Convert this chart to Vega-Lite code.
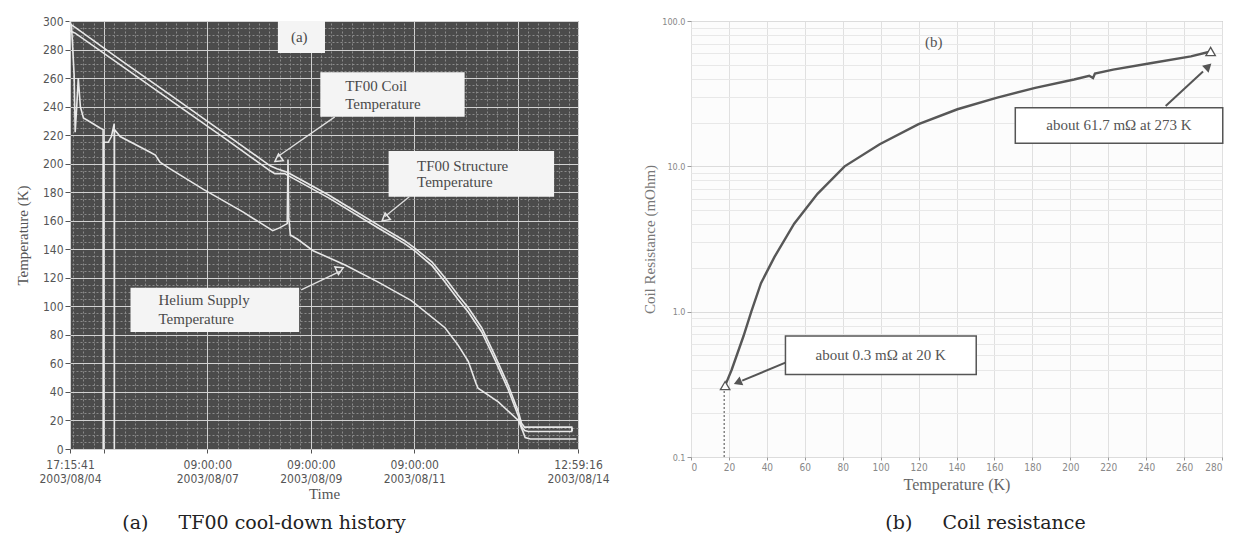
{
"$schema": "https://vega.github.io/schema/vega-lite/v6.json",
"background": "white",
"padding": {"left": 14, "top": 14, "right": 5, "bottom": 5},
"bounds": "flush",
"spacing": 113,
"config": {"font": "Liberation Sans", "view": {"stroke": null}},
"datasets": {
"temps": [
{"time":"2003-08-04T17:15:41Z","sensor":"Helium","T":300},
{"time":"2003-08-04T17:59:00Z","sensor":"Helium","T":296},
{"time":"2003-08-04T19:11:00Z","sensor":"Helium","T":262},
{"time":"2003-08-04T19:40:00Z","sensor":"Helium","T":222},
{"time":"2003-08-04T20:23:00Z","sensor":"Helium","T":240},
{"time":"2003-08-04T21:06:00Z","sensor":"Helium","T":260},
{"time":"2003-08-04T22:04:00Z","sensor":"Helium","T":240},
{"time":"2003-08-04T23:30:00Z","sensor":"Helium","T":232},
{"time":"2003-08-05T02:52:00Z","sensor":"Helium","T":229},
{"time":"2003-08-05T07:11:00Z","sensor":"Helium","T":225},
{"time":"2003-08-05T08:37:00Z","sensor":"Helium","T":224},
{"time":"2003-08-05T08:40:00Z","sensor":"Helium","T":0},
{"time":"2003-08-05T08:44:00Z","sensor":"Helium","T":215},
{"time":"2003-08-05T11:01:00Z","sensor":"Helium","T":215},
{"time":"2003-08-05T12:28:00Z","sensor":"Helium","T":219},
{"time":"2003-08-05T13:47:00Z","sensor":"Helium","T":228},
{"time":"2003-08-05T13:50:00Z","sensor":"Helium","T":0},
{"time":"2003-08-05T13:54:00Z","sensor":"Helium","T":224},
{"time":"2003-08-05T16:32:00Z","sensor":"Helium","T":219},
{"time":"2003-08-06T06:28:00Z","sensor":"Helium","T":208},
{"time":"2003-08-06T08:52:00Z","sensor":"Helium","T":206},
{"time":"2003-08-06T11:01:00Z","sensor":"Helium","T":201},
{"time":"2003-08-06T15:35:00Z","sensor":"Helium","T":196.5},
{"time":"2003-08-07T07:11:00Z","sensor":"Helium","T":182},
{"time":"2003-08-08T01:40:00Z","sensor":"Helium","T":166},
{"time":"2003-08-08T15:20:00Z","sensor":"Helium","T":153},
{"time":"2003-08-08T18:28:00Z","sensor":"Helium","T":155},
{"time":"2003-08-08T22:04:00Z","sensor":"Helium","T":158},
{"time":"2003-08-08T22:25:00Z","sensor":"Helium","T":203},
{"time":"2003-08-08T22:47:00Z","sensor":"Helium","T":162},
{"time":"2003-08-08T23:30:00Z","sensor":"Helium","T":150},
{"time":"2003-08-09T02:52:00Z","sensor":"Helium","T":147},
{"time":"2003-08-09T10:04:00Z","sensor":"Helium","T":139},
{"time":"2003-08-10T00:56:00Z","sensor":"Helium","T":129},
{"time":"2003-08-10T16:18:00Z","sensor":"Helium","T":117},
{"time":"2003-08-11T07:40:00Z","sensor":"Helium","T":104},
{"time":"2003-08-11T23:16:00Z","sensor":"Helium","T":85},
{"time":"2003-08-12T05:16:00Z","sensor":"Helium","T":73},
{"time":"2003-08-12T10:04:00Z","sensor":"Helium","T":61.5},
{"time":"2003-08-12T13:40:00Z","sensor":"Helium","T":46},
{"time":"2003-08-12T14:37:00Z","sensor":"Helium","T":42.6},
{"time":"2003-08-12T23:59:00Z","sensor":"Helium","T":33},
{"time":"2003-08-13T09:20:00Z","sensor":"Helium","T":20},
{"time":"2003-08-13T11:30:00Z","sensor":"Helium","T":12},
{"time":"2003-08-13T12:28:00Z","sensor":"Helium","T":8},
{"time":"2003-08-13T14:52:00Z","sensor":"Helium","T":7},
{"time":"2003-08-14T12:13:00Z","sensor":"Helium","T":7},
{"time":"2003-08-04T17:15:41Z","sensor":"Coil","T":298},
{"time":"2003-08-04T19:40:00Z","sensor":"Coil","T":295.5},
{"time":"2003-08-05T17:16:00Z","sensor":"Coil","T":272},
{"time":"2003-08-06T17:16:00Z","sensor":"Coil","T":246.6},
{"time":"2003-08-07T17:16:00Z","sensor":"Coil","T":220.9},
{"time":"2003-08-08T14:08:00Z","sensor":"Coil","T":198.5},
{"time":"2003-08-08T17:16:00Z","sensor":"Coil","T":196.5},
{"time":"2003-08-08T22:04:00Z","sensor":"Coil","T":194},
{"time":"2003-08-09T05:16:00Z","sensor":"Coil","T":188},
{"time":"2003-08-09T17:16:00Z","sensor":"Coil","T":178},
{"time":"2003-08-10T05:16:00Z","sensor":"Coil","T":167},
{"time":"2003-08-10T17:16:00Z","sensor":"Coil","T":156},
{"time":"2003-08-11T04:32:00Z","sensor":"Coil","T":146},
{"time":"2003-08-11T09:06:00Z","sensor":"Coil","T":141},
{"time":"2003-08-11T17:16:00Z","sensor":"Coil","T":131},
{"time":"2003-08-11T23:16:00Z","sensor":"Coil","T":120},
{"time":"2003-08-12T05:16:00Z","sensor":"Coil","T":108},
{"time":"2003-08-12T10:04:00Z","sensor":"Coil","T":99},
{"time":"2003-08-12T16:18:00Z","sensor":"Coil","T":85},
{"time":"2003-08-12T22:18:00Z","sensor":"Coil","T":66},
{"time":"2003-08-13T04:32:00Z","sensor":"Coil","T":45},
{"time":"2003-08-13T09:20:00Z","sensor":"Coil","T":26},
{"time":"2003-08-13T10:47:00Z","sensor":"Coil","T":18},
{"time":"2003-08-13T12:13:00Z","sensor":"Coil","T":15.3},
{"time":"2003-08-14T10:04:00Z","sensor":"Coil","T":15.3},
{"time":"2003-08-14T10:18:00Z","sensor":"Coil","T":12.5},
{"time":"2003-08-04T17:15:41Z","sensor":"Structure","T":293},
{"time":"2003-08-04T19:40:00Z","sensor":"Structure","T":291.5},
{"time":"2003-08-05T17:16:00Z","sensor":"Structure","T":268.5},
{"time":"2003-08-06T17:16:00Z","sensor":"Structure","T":243},
{"time":"2003-08-07T17:16:00Z","sensor":"Structure","T":217.5},
{"time":"2003-08-08T14:08:00Z","sensor":"Structure","T":195},
{"time":"2003-08-08T16:18:00Z","sensor":"Structure","T":193},
{"time":"2003-08-08T20:52:00Z","sensor":"Structure","T":193},
{"time":"2003-08-08T22:04:00Z","sensor":"Structure","T":192},
{"time":"2003-08-09T05:16:00Z","sensor":"Structure","T":186},
{"time":"2003-08-09T17:16:00Z","sensor":"Structure","T":176},
{"time":"2003-08-10T05:16:00Z","sensor":"Structure","T":165},
{"time":"2003-08-10T17:16:00Z","sensor":"Structure","T":154},
{"time":"2003-08-11T04:32:00Z","sensor":"Structure","T":144},
{"time":"2003-08-11T09:06:00Z","sensor":"Structure","T":139},
{"time":"2003-08-11T17:16:00Z","sensor":"Structure","T":128.5},
{"time":"2003-08-11T23:16:00Z","sensor":"Structure","T":117},
{"time":"2003-08-12T05:16:00Z","sensor":"Structure","T":105},
{"time":"2003-08-12T10:04:00Z","sensor":"Structure","T":96},
{"time":"2003-08-12T16:18:00Z","sensor":"Structure","T":82},
{"time":"2003-08-12T22:18:00Z","sensor":"Structure","T":63},
{"time":"2003-08-13T04:32:00Z","sensor":"Structure","T":42},
{"time":"2003-08-13T09:20:00Z","sensor":"Structure","T":23},
{"time":"2003-08-13T10:47:00Z","sensor":"Structure","T":16},
{"time":"2003-08-13T12:13:00Z","sensor":"Structure","T":13},
{"time":"2003-08-13T13:54:00Z","sensor":"Structure","T":12.3},
{"time":"2003-08-14T10:04:00Z","sensor":"Structure","T":12.3},
{"time":"2003-08-14T10:18:00Z","sensor":"Structure","T":15}
],
"boxesA": [
{"id":"a","t1":"2003-08-08T17:44:00Z","t2":"2003-08-09T15:35:00Z","T1":277.6,"T2":300},
{"id":"coil","t1":"2003-08-09T13:25:00Z","t2":"2003-08-12T08:23:00Z","T1":232.8,"T2":264},
{"id":"structure","t1":"2003-08-10T21:06:00Z","t2":"2003-08-14T01:54:00Z","T1":176.8,"T2":208.8},
{"id":"helium","t1":"2003-08-05T21:20:00Z","t2":"2003-08-09T03:35:00Z","T1":82,"T2":113}
],
"textA": [
{"time":"2003-08-08T23:46:00Z","T":289,"label":"(a)"},
{"time":"2003-08-10T00:56:00Z","T":254.5,"label":"TF00 Coil"},
{"time":"2003-08-10T00:56:00Z","T":241.8,"label":"Temperature"},
{"time":"2003-08-11T10:18:00Z","T":198.7,"label":"TF00 Structure"},
{"time":"2003-08-11T10:18:00Z","T":186.9,"label":"Temperature"},
{"time":"2003-08-06T10:18:00Z","T":104.4,"label":"Helium Supply"},
{"time":"2003-08-06T10:18:00Z","T":91.4,"label":"Temperature"}
],
"arrowsA": [
{"id":"coil","t1":"2003-08-09T20:08:00Z","T1":232.8,"t2":"2003-08-08T17:44:00Z","T2":205},
{"id":"structure","t1":"2003-08-11T06:42:00Z","T1":176.8,"t2":"2003-08-10T19:24:00Z","T2":163},
{"id":"helium","t1":"2003-08-09T04:32:00Z","T1":111.5,"t2":"2003-08-09T22:32:00Z","T2":124.5}
],
"marksA": [
{"id":"coil","time":"2003-08-08T17:44:00Z","T":203},
{"id":"structure","time":"2003-08-10T19:24:00Z","T":161.5},
{"id":"helium","time":"2003-08-09T22:32:00Z","T":126}
],
"res": [
{"T":18,"R":0.31},{"T":21.5,"R":0.40},{"T":27.7,"R":0.68},{"T":31.8,"R":1.0},{"T":36.9,"R":1.57},
{"T":44.1,"R":2.39},{"T":54.4,"R":4.03},{"T":66.7,"R":6.47},{"T":81,"R":10},{"T":99.5,"R":14.2},
{"T":120,"R":19.5},{"T":140.5,"R":24.7},{"T":161,"R":29.6},{"T":181.5,"R":34.7},{"T":202,"R":39.6},
{"T":210,"R":42},{"T":212,"R":40.5},{"T":213,"R":43.5},{"T":222.6,"R":46.3},{"T":243,"R":51.4},
{"T":263.6,"R":57.1},{"T":274,"R":61.7}
],
"drop": [{"T":17.5,"R":0.1},{"T":17.5,"R":0.3}],
"boxesB": [
{"T1":171,"T2":280.4,"R1":14.4,"R2":25.3},
{"T1":49.8,"T2":150.4,"R1":0.37,"R2":0.68}
],
"textB": [
{"T":225.7,"R":19.1,"label":"about 61.7 mΩ at 273 K"},
{"T":100,"R":0.5,"label":"about 0.3 mΩ at 20 K"},
{"T":128,"R":72,"label":"(b)"}
],
"arrowsB": [
{"id":"up","T1":250.3,"R1":26,"T2":270,"R2":45},
{"id":"low","T1":49.8,"R1":0.446,"T2":27,"R2":0.335}
],
"headsB": [
{"id":"up","T":272.8,"R":48.7},
{"id":"low","T":24.6,"R":0.326}
],
"endsB": [{"T":18,"R":0.31},{"T":274,"R":61.7}]
},
"hconcat": [
{
"width": 508, "height": 428,
"view": {"fill": "#4b4b4b", "stroke": "#6a6a6a"},
"title": {"text": "(a)\u00a0\u00a0\u00a0\u00a0 TF00 cool-down history", "orient": "bottom", "anchor": "middle", "frame": "group", "dx": -60, "offset": 13, "font": "DejaVu Serif", "fontSize": 19, "fontWeight": "normal", "color": "#222"},
"layer": [
{
"data": {"name": "temps"},
"mark": {"type": "line", "opacity": 0},
"encoding": {
"x": {"field": "time", "type": "temporal", "scale": {"type": "utc", "domain": [1060017341000, 1060865956000], "nice": false},
"axis": {"orient": "top", "labels": false, "ticks": false, "domain": false, "title": null, "grid": true, "gridColor": "#8a8a8a", "gridDash": [2, 2], "gridWidth": 1, "tickCount": 500,
"values": [1060022160000,1060039440000,1060056720000,1060091280000,1060108560000,1060125840000,1060143120000,1060160400000,1060177680000,1060194960000,1060212240000,1060229520000,1060264080000,1060281360000,1060298640000,1060315920000,1060333200000,1060350480000,1060367760000,1060385040000,1060402320000,1060436880000,1060454160000,1060471440000,1060488720000,1060506000000,1060523280000,1060540560000,1060557840000,1060575120000,1060609680000,1060626960000,1060644240000,1060661520000,1060678800000,1060696080000,1060713360000,1060730640000,1060747920000,1060782480000,1060799760000,1060817040000,1060834320000,1060851600000]}},
"y": {"field": "T", "type": "quantitative", "scale": {"domain": [0, 300], "nice": false},
"axis": {"orient": "right", "labels": false, "ticks": false, "domain": false, "title": null, "grid": true, "gridColor": "#8a8a8a", "gridDash": [2, 2], "gridWidth": 1, "tickCount": 500,
"values": [5,10,15,25,30,35,45,50,55,65,70,75,85,90,95,105,110,115,125,130,135,145,150,155,165,170,175,185,190,195,205,210,215,225,230,235,245,250,255,265,270,275,285,290,295]}},
"detail": {"field": "sensor"}
}
},
{
"layer": [
{
"data": {"name": "temps"},
"mark": {"type": "line", "color": "#e8e8e8", "strokeWidth": 1.6},
"encoding": {
"x": {"field": "time", "type": "temporal", "scale": {"type": "utc", "domain": [1060017341000, 1060865956000], "nice": false},
"axis": {"title": "Time", "titleFont": "Liberation Serif", "titleFontSize": 15, "titleFontWeight": "normal", "titleColor": "#555", "titlePadding": 2, "tickCount": 500,
"values": [1060017341000, 1060074000000, 1060246800000, 1060419600000, 1060592400000, 1060765200000, 1060865956000],
"labelExpr": "((+datum.value) == 1060074000000 || (+datum.value) == 1060765200000) ? '' : [utcFormat(datum.value, '%H:%M:%S'), utcFormat(datum.value, '%Y/%m/%d')]",
"labelFont": "Liberation Sans Narrow, DejaVu Sans Condensed, sans-serif", "labelFontSize": 12, "labelColor": "#555", "labelOverlap": false, "labelFlush": false, "labelLineHeight": 14, "labelPadding": 6,
"tickColor": "#555", "tickSize": 4, "domain": false, "grid": true, "gridColor": "#d2d2d2", "gridWidth": 1}},
"y": {"field": "T", "type": "quantitative", "scale": {"domain": [0, 300], "nice": false},
"axis": {"title": "Temperature (K)", "titleFont": "Liberation Serif", "titleFontSize": 15, "titleFontWeight": "normal", "titleColor": "#555", "titlePadding": 12, "tickCount": 500, "format": "d",
"values": [0,20,40,60,80,100,120,140,160,180,200,220,240,260,280,300],
"labelFont": "Liberation Sans Narrow, DejaVu Sans Condensed, sans-serif", "labelFontSize": 12, "labelColor": "#555", "labelPadding": 2, "labelOverlap": false,
"tickColor": "#555", "tickSize": 5, "domain": false, "grid": true, "gridColor": "#d2d2d2", "gridWidth": 1}},
"detail": {"field": "sensor"}
}
},
{
"data": {"name": "boxesA"},
"mark": {"type": "rect", "color": "#f4f4f4"},
"encoding": {
"x": {"field": "t1", "type": "temporal"},
"x2": {"field": "t2"},
"y": {"field": "T1", "type": "quantitative"},
"y2": {"field": "T2"}
}
},
{
"data": {"name": "textA"},
"mark": {"type": "text", "align": "left", "baseline": "middle", "font": "Liberation Serif", "fontSize": 15, "color": "#4a4a4a"},
"encoding": {
"x": {"field": "time", "type": "temporal"},
"y": {"field": "T", "type": "quantitative"},
"text": {"field": "label"}
}
},
{
"data": {"name": "arrowsA"},
"mark": {"type": "rule", "color": "#e0e0e0", "strokeWidth": 1.3},
"encoding": {
"x": {"field": "t1", "type": "temporal"},
"x2": {"field": "t2"},
"y": {"field": "T1", "type": "quantitative"},
"y2": {"field": "T2"}
}
},
{
"data": {"name": "marksA"},
"mark": {"type": "point", "shape": "triangle-up", "filled": false, "stroke": "#e6e6e6", "strokeWidth": 1.5, "size": 70, "opacity": 1},
"encoding": {
"x": {"field": "time", "type": "temporal"},
"y": {"field": "T", "type": "quantitative"},
"angle": {"condition": [{"test": "datum.id == 'coil'", "value": 235}, {"test": "datum.id == 'structure'", "value": 231}], "value": 65}
}
}
]
}
],
"resolve": {"axis": {"x": "independent", "y": "independent"}}
},
{
"width": 531, "height": 436,
"view": {"fill": "#fcfcfc", "stroke": "#9a9a9a"},
"title": {"text": "(b)\u00a0\u00a0\u00a0\u00a0 Coil resistance", "orient": "bottom", "anchor": "middle", "frame": "group", "dx": 29, "offset": 22, "font": "DejaVu Serif", "fontSize": 19, "fontWeight": "normal", "color": "#222"},
"layer": [
{
"data": {"name": "res"},
"mark": {"type": "line", "opacity": 0},
"encoding": {
"x": {"field": "T", "type": "quantitative", "scale": {"domain": [0, 280], "nice": false}, "axis": null},
"y": {"field": "R", "type": "quantitative", "scale": {"type": "log", "domain": [0.1, 100], "nice": false},
"axis": {"orient": "right", "labels": false, "ticks": false, "domain": false, "title": null, "grid": true, "gridColor": "#e8e8e8", "gridWidth": 1, "tickCount": 500,
"values": [0.2,0.3,0.4,0.5,0.6,0.7,0.8,0.9,2,3,4,5,6,7,8,9,20,30,40,50,60,70,80,90]}}
}
},
{
"layer": [
{
"data": {"name": "res"},
"mark": {"type": "line", "color": "#575757", "strokeWidth": 2.4},
"encoding": {
"x": {"field": "T", "type": "quantitative", "scale": {"domain": [0, 280], "nice": false},
"axis": {"title": "Temperature (K)", "titleFont": "Liberation Serif", "titleFontSize": 16, "titleFontWeight": "normal", "titleColor": "#666", "titlePadding": 4, "tickCount": 500, "format": "d",
"values": [0,20,40,60,80,100,120,140,160,180,200,220,240,260,280], "labelOverlap": false,
"labelFont": "Liberation Sans Narrow, DejaVu Sans Condensed, sans-serif", "labelFontSize": 10, "labelColor": "#888", "labelPadding": 2,
"tickColor": "#999", "tickSize": 3, "domain": false, "grid": true, "gridColor": "#e0e0e0"}},
"y": {"field": "R", "type": "quantitative", "scale": {"type": "log", "domain": [0.1, 100], "nice": false},
"axis": {"title": "Coil Resistance (mOhm)", "titleFont": "Liberation Serif", "titleFontSize": 15, "titleFontWeight": "normal", "titleColor": "#777", "titlePadding": 4, "tickCount": 500,
"values": [0.1, 1, 10, 100], "format": ".1f", "labelOverlap": false,
"labelFont": "Liberation Sans Narrow, DejaVu Sans Condensed, sans-serif", "labelFontSize": 9, "labelColor": "#888", "labelPadding": 2,
"tickColor": "#999", "tickSize": 4, "domain": false, "grid": true, "gridColor": "#dcdcdc"}}
}
},
{
"data": {"name": "drop"},
"mark": {"type": "line", "color": "#666", "strokeWidth": 1.2, "strokeDash": [2, 2]},
"encoding": {
"x": {"field": "T", "type": "quantitative"},
"y": {"field": "R", "type": "quantitative"}
}
},
{
"data": {"name": "boxesB"},
"mark": {"type": "rect", "fill": "#ffffff", "stroke": "#555", "strokeWidth": 1.5},
"encoding": {
"x": {"field": "T1", "type": "quantitative"},
"x2": {"field": "T2"},
"y": {"field": "R1", "type": "quantitative"},
"y2": {"field": "R2"}
}
},
{
"data": {"name": "textB"},
"mark": {"type": "text", "align": "center", "baseline": "middle", "font": "Liberation Serif", "fontSize": 15, "color": "#555"},
"encoding": {
"x": {"field": "T", "type": "quantitative"},
"y": {"field": "R", "type": "quantitative"},
"text": {"field": "label"}
}
},
{
"data": {"name": "arrowsB"},
"mark": {"type": "rule", "color": "#555", "strokeWidth": 2},
"encoding": {
"x": {"field": "T1", "type": "quantitative"},
"x2": {"field": "T2"},
"y": {"field": "R1", "type": "quantitative"},
"y2": {"field": "R2"}
}
},
{
"data": {"name": "headsB"},
"mark": {"type": "point", "shape": "triangle-up", "filled": true, "color": "#555", "size": 90, "opacity": 1},
"encoding": {
"x": {"field": "T", "type": "quantitative"},
"y": {"field": "R", "type": "quantitative"},
"angle": {"condition": {"test": "datum.id == 'up'", "value": 47}, "value": 247}
}
},
{
"data": {"name": "endsB"},
"mark": {"type": "point", "shape": "triangle-up", "filled": true, "fill": "#ffffff", "stroke": "#555", "strokeWidth": 1.3, "size": 90, "opacity": 1},
"encoding": {
"x": {"field": "T", "type": "quantitative"},
"y": {"field": "R", "type": "quantitative"}
}
}
]
}
],
"resolve": {"axis": {"x": "independent", "y": "independent"}}
}
]
}
